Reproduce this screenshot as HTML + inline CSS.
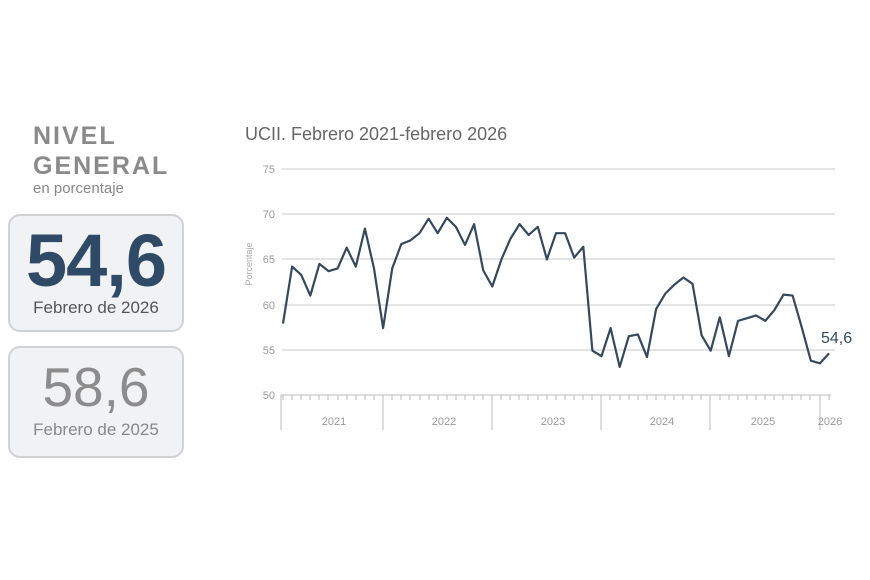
<!DOCTYPE html>
<html><head><meta charset="utf-8"><style>
body{margin:0;width:870px;height:580px;background:#fff;font-family:"Liberation Sans",sans-serif;position:relative;overflow:hidden}
.h{position:absolute;left:33px;color:#8a8a8a;font-weight:bold;font-size:25px;letter-spacing:2px;line-height:28px}
.box{position:absolute;left:8px;width:176px;background:#f1f2f4;border:2px solid #d0d2d6;border-radius:12px;text-align:center;box-sizing:border-box}
</style></head><body>
<div class="h" style="top:122px">NIVEL</div>
<div class="h" style="top:152px">GENERAL</div>
<div style="position:absolute;left:33px;top:180px;font-size:15px;color:#888">en porcentaje</div>
<div class="box" style="top:214px;height:118px">
 <div style="font-size:74px;font-weight:bold;color:#2f4a66;line-height:74px;margin-top:8px;letter-spacing:-1px">54,6</div>
 <div style="font-size:17px;color:#555;margin-top:0px">Febrero de 2026</div>
</div>
<div class="box" style="top:346px;height:112px">
 <div style="font-size:55px;color:#8c8c8c;line-height:58px;margin-top:10px">58,6</div>
 <div style="font-size:17px;color:#888;margin-top:4px">Febrero de 2025</div>
</div>
<div style="position:absolute;left:245px;top:124px;font-size:18px;color:#666">UCII. Febrero 2021-febrero 2026</div>
<svg width="870" height="580" style="position:absolute;left:0;top:0" font-family="Liberation Sans, sans-serif">
<g stroke="#dcdcdc" stroke-width="1.5">
<line x1="282" x2="835" y1="169" y2="169"/><line x1="282" x2="835" y1="214" y2="214"/><line x1="282" x2="835" y1="259" y2="259"/><line x1="282" x2="835" y1="305" y2="305"/><line x1="282" x2="835" y1="350" y2="350"/>
</g>
<g fill="#999" font-size="11" text-anchor="end">
<text x="275" y="173">75</text><text x="275" y="218">70</text><text x="275" y="263">65</text><text x="275" y="309">60</text><text x="275" y="354">55</text><text x="275" y="399">50</text>
</g>
<text x="0" y="0" transform="translate(252,264) rotate(-90)" text-anchor="middle" font-size="9" fill="#aaa">Porcentaje</text>
<line x1="281" x2="831" y1="395" y2="395" stroke="#bbb"/>
<g stroke="#bbb" stroke-width="1">
<path d="M283 395v5M292 395v5M301 395v5M310 395v5M319 395v5M328 395v5M338 395v5M347 395v5M356 395v5M365 395v5M374 395v5M392 395v5M401 395v5M410 395v5M420 395v5M429 395v5M438 395v5M447 395v5M456 395v5M465 395v5M474 395v5M483 395v5M501 395v5M510 395v5M519 395v5M528 395v5M538 395v5M547 395v5M556 395v5M565 395v5M574 395v5M583 395v5M592 395v5M610 395v5M620 395v5M629 395v5M638 395v5M647 395v5M656 395v5M665 395v5M674 395v5M683 395v5M692 395v5M701 395v5M720 395v5M729 395v5M738 395v5M747 395v5M756 395v5M765 395v5M774 395v5M783 395v5M792 395v5M801 395v5M810 395v5M829 395v5"/>
<path d="M281 395v35M383 395v35M492 395v35M601 395v35M710 395v35M820 395v35"/>
</g>
<g fill="#999" font-size="11" text-anchor="middle">
<text x="334" y="425">2021</text><text x="444" y="425">2022</text><text x="553" y="425">2023</text><text x="662" y="425">2024</text><text x="763" y="425">2025</text><text x="830" y="425">2026</text>
</g>
<g transform="translate(283,847) scale(9.1,-9.04)">
<polyline vector-effect="non-scaling-stroke" fill="none" stroke="#34495e" stroke-width="2.2" stroke-linejoin="round" points="0,57.9 1,64.2 2,63.3 3,61.0 4,64.5 5,63.7 6,64.0 7,66.3 8,64.2 9,68.4 10,64.0 11,57.4 12,64.0 13,66.7 14,67.1 15,67.9 16,69.5 17,67.9 18,69.6 19,68.6 20,66.6 21,68.9 22,63.8 23,62.0 24,65.0 25,67.3 26,68.9 27,67.7 28,68.6 29,65.0 30,67.9 31,67.9 32,65.2 33,66.4 34,54.9 35,54.3 36,57.4 37,53.1 38,56.5 39,56.7 40,54.2 41,59.5 42,61.2 43,62.2 44,63.0 45,62.3 46,56.6 47,54.9 48,58.6 49,54.3 50,58.2 51,58.5 52,58.8 53,58.2 54,59.4 55,61.1 56,61.0 57,57.5 58,53.8 59,53.5 60,54.6"/>
</g>
<text x="821" y="343" font-size="16" fill="#34495e">54,6</text>
</svg>
</body></html>
